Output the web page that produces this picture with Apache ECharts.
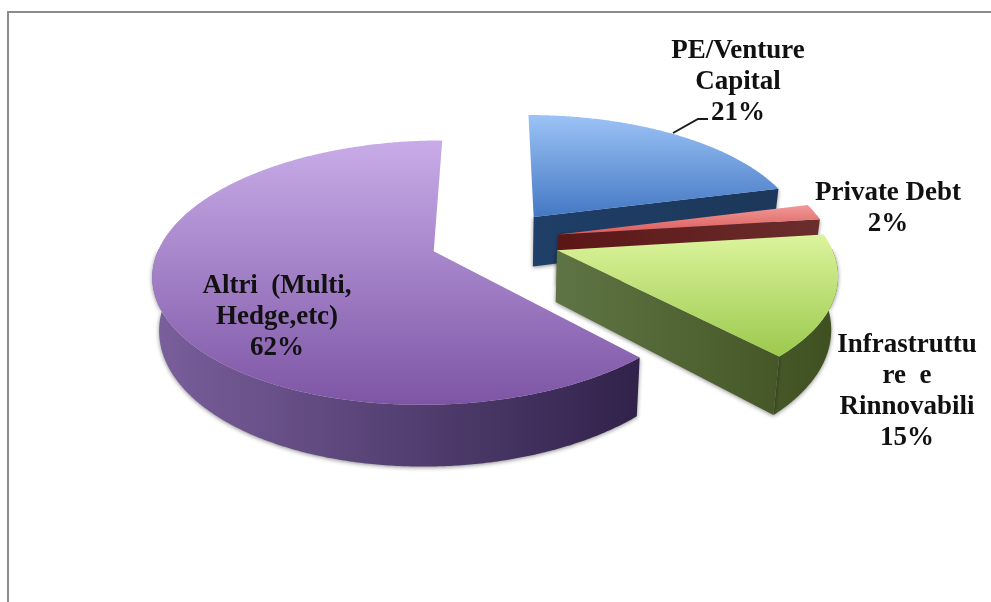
<!DOCTYPE html>
<html>
<head>
<meta charset="utf-8">
<script src="https://cdn.jsdelivr.net/npm/echarts@6/dist/echarts.min.js"></script>
<style>
  html, body { margin: 0; padding: 0; background: #fff; }
  #chart { width: 991px; height: 602px; }
</style>
</head>
<body>
<div id="chart"></div>
<script>
// data, clockwise from 12 o'clock
const categories = ["PE/Venture\nCapital", "Private Debt", "Infrastruttu\nre  e\nRinnovabili", "Altri  (Multi,\nHedge,etc)"];
const shares = [21, 2, 15, 62];

// colours: top face gradient, wall gradient
const topColors = [["#9cc3f6", "#4478c4"], ["#f09a98", "#dc5a58"], ["#dcf49c", "#9cc94e"], ["#c8ace8", "#7d55a5"]];
const wallColors = [["#1f3f68", "#1c3759"], ["#5c1616", "#6a2e2c"], ["#5f7444", "#3f5020"], ["#7a5f9c", "#30224a"]];
const labelPos = [[738, 51], [888, 193], [907, 345], [277, 286]];

// fake 3d projection of the pie plane
const cx = 495, cy = 240;
const R = 272, tilt = 0.46, persp = 0.16;
const explode = 65, depth = 51;

function project(X, Y) {
  const s = 1 / (1 - persp * Y / R);
  return { x: cx + X * s, y: cy + tilt * Y * s, s: s };
}
function topPt(p) { return [p.x, p.y]; }
function botPt(p) { return [cx + (p.x - cx) * 0.98, p.y + depth * p.s]; }

const total = shares.reduce((a, b) => a + b, 0);
const startAngles = [];
shares.reduce((acc, v, i) => { startAngles[i] = acc; return acc + v / total * 360; }, -90);

function renderSlice(params, api) {
  const i = params.dataIndex;
  const sweep = api.value(0) / total * 360;
  const a0 = startAngles[i] * Math.PI / 180;
  const a1 = (startAngles[i] + sweep) * Math.PI / 180;
  const mid = (a0 + a1) / 2;
  const ox = Math.cos(mid) * explode, oy = Math.sin(mid) * explode;

  const rim = [];
  const front = [];
  const steps = Math.ceil(sweep * 2);
  for (let k = 0; k <= steps; k++) {
    const t = a0 + (a1 - a0) * k / steps;
    const p = project(ox + R * Math.cos(t), oy + R * Math.sin(t));
    rim.push(p);
    if (Math.sin(t) >= -0.02) front.push(p);
  }
  const apex = project(ox, oy);
  const first = rim[0], last = rim[rim.length - 1];

  const xs = rim.concat([apex]).map(p => p.x);
  const wallFill = new echarts.graphic.LinearGradient(Math.min.apply(null, xs), 0, Math.max.apply(null, xs), 0, [
    { offset: 0, color: wallColors[i][0] },
    { offset: 1, color: wallColors[i][1] }
  ], true);
  const shadow = { shadowColor: "rgba(0,0,0,0.45)", shadowBlur: 4, shadowOffsetY: 1 };
  const children = [];

  // outer wall, front part of the rim only
  if (front.length > 1) {
    children.push({
      type: "polygon",
      shape: { points: front.map(p => topPt(p)).concat(front.slice().reverse().map(p => botPt(p))) },
      style: Object.assign({ fill: wallFill }, shadow)
    });
  }
  // cut faces, only the ones that look towards the viewer
  if (Math.sin(a0 - Math.PI / 2) > 0.01) {
    children.push({
      type: "polygon",
      shape: { points: [topPt(apex), topPt(first), botPt(first), botPt(apex)] },
      style: Object.assign({ fill: wallFill }, shadow)
    });
  }
  if (Math.sin(a1 + Math.PI / 2) > 0.01) {
    children.push({
      type: "polygon",
      shape: { points: [topPt(apex), topPt(last), botPt(last), botPt(apex)] },
      style: Object.assign({ fill: wallFill }, shadow)
    });
  }
  children.push({
    type: "polygon",
    shape: { points: [topPt(apex)].concat(rim.map(p => topPt(p))) },
    style: {
      fill: new echarts.graphic.LinearGradient(0, 0, 0, 1, [
        { offset: 0, color: topColors[i][0] },
        { offset: 1, color: topColors[i][1] }
      ])
    }
  });
  children.push({
    type: "text",
    z2: 10,
    x: labelPos[i][0],
    y: labelPos[i][1] - 15,
    style: {
      text: categories[i] + "\n" + api.value(0) + "%",
      fill: "#111",
      font: 'bold 27px "Liberation Serif", serif',
      lineHeight: 31,
      align: "center",
      verticalAlign: "top"
    }
  });
  return { type: "group", children: children };
}

const chart = echarts.init(document.getElementById("chart"), null, { renderer: "canvas" });
chart.setOption({
  animation: false,
  backgroundColor: "#fff",
  graphic: [
    { type: "polyline", shape: { points: [[8, 602], [8, 12], [991, 12]] }, style: { stroke: "#8c8c8c", lineWidth: 2, fill: null } },
    { type: "polyline", z: 10, shape: { points: [[673, 133], [698, 119], [708, 119]] }, style: { stroke: "#1a1a1a", lineWidth: 2, fill: null } }
  ],
  series: [{
    type: "custom",
    coordinateSystem: "none",
    renderItem: renderSlice,
    data: shares.map(v => [v])
  }]
});
</script>
</body>
</html>
